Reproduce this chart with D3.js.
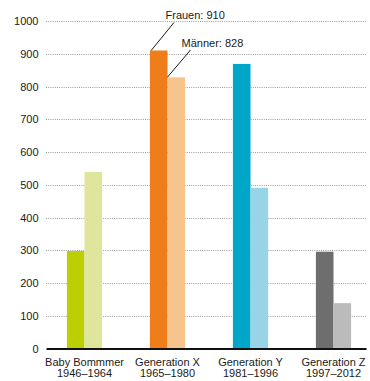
<!DOCTYPE html>
<html>
<head>
<meta charset="utf-8">
<script src="https://cdn.jsdelivr.net/npm/d3@7"></script>
<style>
  html, body { margin: 0; padding: 0; background: #fff; }
  svg { display: block; font-family: "Liberation Sans", Arial, Helvetica, sans-serif; }
</style>
</head>
<body>
<svg id="chart" width="370" height="381"></svg>
<script>
// Generations and their birth-year ranges
const generations = ["Baby Bommmer", "Generation X", "Generation Y", "Generation Z"];
const yearRanges = ["1946–1964", "1965–1980", "1981–1996", "1997–2012"];
const genders = ["Frauen", "Männer"];

// Values per generation
const frauen = [298, 910, 869, 296];
const maenner = [539, 828, 491, 139];

// Colours per generation: [Frauen, Männer]
const frauenColors = ["#bccf00", "#ee7d1a", "#00a6c8", "#6e6e6e"];
const maennerColors = ["#dfe69b", "#f8c48e", "#97d4e6", "#bbbbbb"];

const yTicks = [0, 100, 200, 300, 400, 500, 600, 700, 800, 900, 1000];

const svg = d3.select("#chart");

const y = d3.scaleLinear().domain([0, 1000]).range([348.7, 21]);
const xCenter = d3.scalePoint().domain(generations).range([84.5, 333.5]);
const xSub = d3.scaleBand().domain(genders).range([-17.6, 17.6]);

// Dotted gridlines
svg.append("g")
  .selectAll("line")
  .data(yTicks.filter(d => d > 0))
  .join("line")
  .attr("x1", 46).attr("x2", 366)
  .attr("y1", d => Math.round(y(d)) + 0.5)
  .attr("y2", d => Math.round(y(d)) + 0.5)
  .attr("stroke", "#9a9a9a")
  .attr("stroke-width", 1)
  .attr("stroke-dasharray", "1,1.2");

// Y axis tick labels
svg.append("g")
  .selectAll("text")
  .data(yTicks)
  .join("text")
  .attr("x", 38.5)
  .attr("y", d => y(d) + 4)
  .attr("text-anchor", "end")
  .attr("font-size", 11)
  .attr("fill", "#1a1a1a")
  .text(d => d);

// Bars
const rows = generations.map((g, i) => ({
  g, i,
  values: [
    { key: "Frauen", value: frauen[i], color: frauenColors[i] },
    { key: "Männer", value: maenner[i], color: maennerColors[i] }
  ]
}));

svg.append("g")
  .selectAll("g")
  .data(rows)
  .join("g")
  .attr("transform", d => `translate(${xCenter(d.g)},0)`)
  .selectAll("rect")
  .data(d => d.values)
  .join("rect")
  .attr("x", d => xSub(d.key))
  .attr("width", xSub.bandwidth())
  .attr("y", d => y(d.value))
  .attr("height", d => y(0) - y(d.value))
  .attr("fill", d => d.color);

// Baseline
svg.append("line")
  .attr("x1", 46.5).attr("x2", 366.5)
  .attr("y1", y(0) + 0.3).attr("y2", y(0) + 0.3)
  .attr("stroke", "#111")
  .attr("stroke-width", 1.8);

// Category labels
const cat = svg.append("g")
  .selectAll("text")
  .data(generations)
  .join("text")
  .attr("x", d => xCenter(d))
  .attr("text-anchor", "middle")
  .attr("font-size", 11)
  .attr("fill", "#1a1a1a");
cat.append("tspan").attr("x", d => xCenter(d)).attr("y", 366).text(d => d);
cat.append("tspan").attr("x", d => xCenter(d)).attr("y", 377).text((d, i) => yearRanges[i]);

// Value annotations for Generation X
const gx = generations.indexOf("Generation X");
const fx = xCenter(generations[gx]) + xSub("Frauen") + xSub.bandwidth() / 2;
const mx = xCenter(generations[gx]) + xSub("Männer") + xSub.bandwidth() / 2;

const notes = [
  { label: `Frauen: ${frauen[gx]}`, value: frauen[gx], bx: fx - 7.5, tx: 174, ty: 22.5, textX: 165.5, textY: 19 },
  { label: `Männer: ${maenner[gx]}`, value: maenner[gx], bx: mx - 9, tx: 190.5, ty: 50, textX: 181.5, textY: 46.5 }
];

const ann = svg.append("g");
ann.selectAll("line")
  .data(notes)
  .join("line")
  .attr("x1", d => d.bx).attr("y1", d => y(d.value))
  .attr("x2", d => d.tx).attr("y2", d => d.ty)
  .attr("stroke", "#1a1a1a")
  .attr("stroke-width", 1);
ann.selectAll("text")
  .data(notes)
  .join("text")
  .attr("x", d => d.textX)
  .attr("y", d => d.textY)
  .attr("font-size", 11)
  .attr("fill", "#1a1a1a")
  .text(d => d.label);
</script>
</body>
</html>
